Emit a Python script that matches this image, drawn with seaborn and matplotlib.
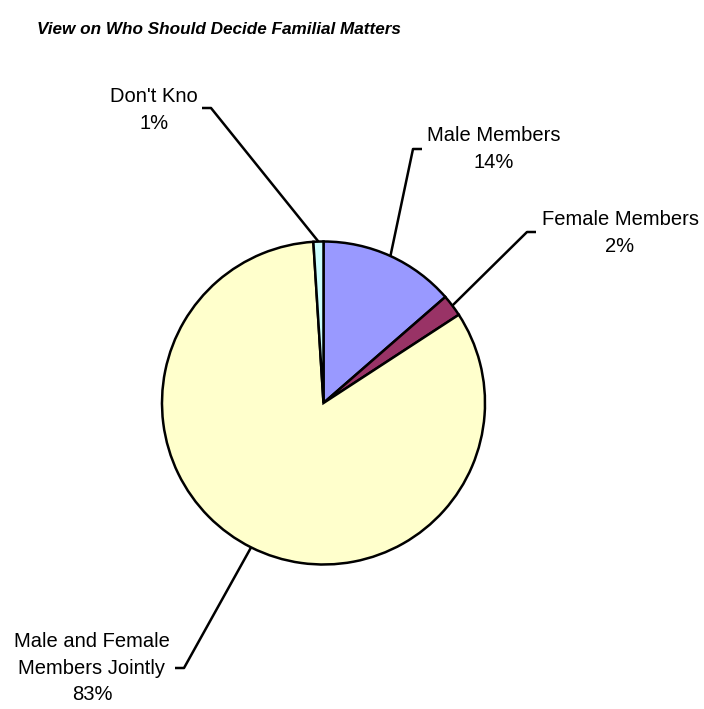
import numpy as np
import matplotlib
matplotlib.use("Agg")
import matplotlib.pyplot as plt
import seaborn as sns

# data
categories = ["Male Members", "Female Members", "Male and Female\nMembers Jointly", "Don't Kno"]
shares = [13.6, 2.2, 83.2, 1.0]
colors = ["#9999FF", "#993366", "#FFFFCC", "#CCFFFF"]
title = "View on Who Should Decide Familial Matters"

sns.set_style("white")
plt.rcParams['font.family'] = ['Liberation Sans', 'DejaVu Sans']

W, H = 704, 709
fig = plt.figure(figsize=(W / 100, H / 100), dpi=100)
ax = fig.add_axes([0, 0, 1, 1])

# pie laid out in pixel space (y measured from the top)
cx, cy, r = 323.5, 403, 161.5
wedges, _ = ax.pie(shares, colors=colors, startangle=90, counterclock=False,
                   radius=r, center=(cx, H - cy),
                   wedgeprops=dict(edgecolor="black", linewidth=1.8))
ax.set_xlim(0, W)
ax.set_ylim(0, H)
ax.set_aspect('auto')
ax.axis('off')

# label text centre and the short elbow of the leader, per slice
text_xy = [(494, 149), (620, 233), (92, 668), (154, 110)]
elbows = [((422, 149), (413, 149)),
          ((536, 232), (527, 232)),
          ((175, 668), (184, 668)),
          ((202, 108), (211, 108))]

for w, cat, val, (tx, ty), (p0, p1) in zip(wedges, categories, shares, text_xy, elbows):
    mid = np.deg2rad((w.theta1 + w.theta2) / 2)
    ex = cx + r * np.cos(mid)
    ey = cy - r * np.sin(mid)
    ax.plot([p0[0], p1[0], ex], [H - p0[1], H - p1[1], H - ey],
            color="black", lw=1.8, solid_capstyle='butt')
    nlines = cat.count("\n") + 1
    ax.text(tx, H - ty, f"{cat}\n{val:.0f}%", ha="center", va="center",
            fontsize=14.5, linespacing=1.55 if nlines == 1 else 1.5, color="black")

ax.text(37, H - 29, title, ha="left", va="center", fontsize=12.3,
        fontweight="bold", fontstyle="italic", color="black")

fig.savefig("out.png", dpi=100)
